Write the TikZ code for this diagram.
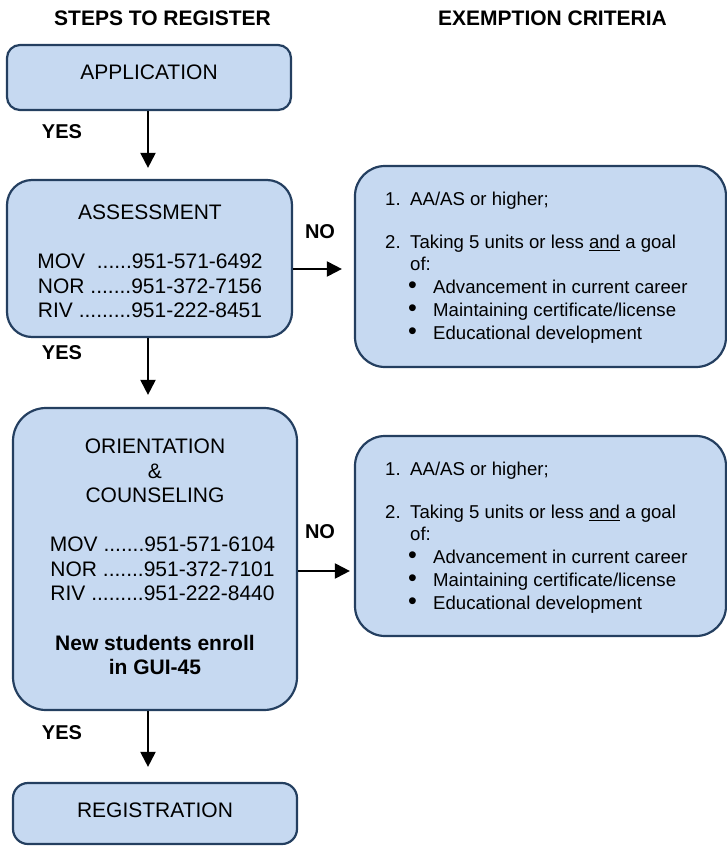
\documentclass[tikz,border=0pt]{standalone}
\usepackage{fontspec}
\setmainfont{Liberation Sans}
\usetikzlibrary{arrows.meta}
\definecolor{boxfill}{HTML}{C6D9F1}
\definecolor{boxline}{HTML}{243F60}
\newcommand{\bigbul}{\raisebox{-0.6pt}{\scalebox{1.35}{\textbullet}}}
\begin{document}
\begin{tikzpicture}[x=1pt,y=-1pt,
  box/.style={draw=boxline, fill=boxfill, line width=2.2pt, inner sep=0pt},
  boxtext/.style={inner sep=0pt, align=center, font=\fontsize{21}{24.5}\selectfont},
  crittext/.style={inner sep=0pt, align=left, anchor=north west, font=\fontsize{18.6}{21.5}\selectfont},
  title/.style={inner sep=0pt, font=\fontsize{21}{24}\selectfont\bfseries},
  answer/.style={inner sep=0pt, font=\fontsize{20}{24}\selectfont\bfseries},
  flow/.style={line width=2pt, -{Triangle[length=15pt,width=15pt]}}]
\useasboundingbox (0,0) rectangle (727,846);

% titles
\node[title] (t1) at (162.5,18) {STEPS TO REGISTER};
\node[title] (t2) at (552.5,18) {EXEMPTION CRITERIA};

% left column boxes
\node[box, rounded corners=13pt, minimum width=284pt, minimum height=65pt] (app) at (149,77.5) {};
\node[boxtext] (apptext) at (149,72) {APPLICATION};

\node[box, rounded corners=25pt, minimum width=285pt, minimum height=157pt] (assess) at (149.5,258.5) {};
\node[boxtext] (assesstext) at (150,261.5) {ASSESSMENT\\[24.5pt]
MOV\ \ ......951-571-6492\\
NOR .......951-372-7156\\
RIV .........951-222-8451};

\node[box, rounded corners=33pt, minimum width=284pt, minimum height=302pt] (orient) at (155,559) {};
\node[boxtext] (orienttext) at (155,557) {ORIENTATION\\
\&\\
COUNSELING\\[24.5pt]
\hspace*{15pt}MOV .......951-571-6104\\
\hspace*{15pt}NOR .......951-372-7101\\
\hspace*{15pt}RIV .........951-222-8440\\[25pt]
\textbf{New students enroll}\\
\textbf{in GUI-45}};

\node[box, rounded corners=15pt, minimum width=284pt, minimum height=61pt] (reg) at (155,813.5) {};
\node[boxtext] (regtext) at (155,810) {REGISTRATION};

% right column boxes
\node[box, rounded corners=30pt, minimum width=371pt, minimum height=201pt] (crit1) at (540.5,266.5) {};
\node[crittext] (crit1text) at (385,192) {\makebox[25pt][l]{1.}AA/AS or higher;\\[21.5pt]
\makebox[25pt][l]{2.}Taking 5 units or less \underline{and} a goal\\
\hspace*{25pt}of:\\[1.5pt]
\hspace*{23pt}\makebox[25pt][l]{\bigbul}Advancement in current career\\[1.5pt]
\hspace*{23pt}\makebox[25pt][l]{\bigbul}Maintaining certificate/license\\[1.5pt]
\hspace*{23pt}\makebox[25pt][l]{\bigbul}Educational development};

\node[box, rounded corners=30pt, minimum width=371pt, minimum height=200pt] (crit2) at (540.5,536) {};
\node[crittext] (crit2text) at (385,462) {\makebox[25pt][l]{1.}AA/AS or higher;\\[21.5pt]
\makebox[25pt][l]{2.}Taking 5 units or less \underline{and} a goal\\
\hspace*{25pt}of:\\[1.5pt]
\hspace*{23pt}\makebox[25pt][l]{\bigbul}Advancement in current career\\[1.5pt]
\hspace*{23pt}\makebox[25pt][l]{\bigbul}Maintaining certificate/license\\[1.5pt]
\hspace*{23pt}\makebox[25pt][l]{\bigbul}Educational development};

% labels
\node[answer] (yes1) at (62,132) {YES};
\node[answer] (yes2) at (62,353) {YES};
\node[answer] (yes3) at (62,733) {YES};
\node[answer] (no1) at (320,232) {NO};
\node[answer] (no2) at (320,532) {NO};

% connectors
\draw[flow, shorten >=11pt] ([xshift=-1pt]app.south) -- ([xshift=-1pt]app.south |- assess.north);
\draw[flow, shorten >=12pt] ([xshift=-1.5pt]assess.south) -- ([xshift=-1.5pt]assess.south |- orient.north);
\draw[flow, shorten >=15pt] ([xshift=-7pt]orient.south) -- ([xshift=-7pt]orient.south |- reg.north);
\draw[flow, shorten >=12pt] ([yshift=-10.5pt]assess.east) -- ([yshift=-2.5pt]crit1.west);
\draw[flow, shorten >=4pt] ([yshift=-12pt]orient.east) -- ([yshift=-35pt]crit2.west);
\end{tikzpicture}
\end{document}
